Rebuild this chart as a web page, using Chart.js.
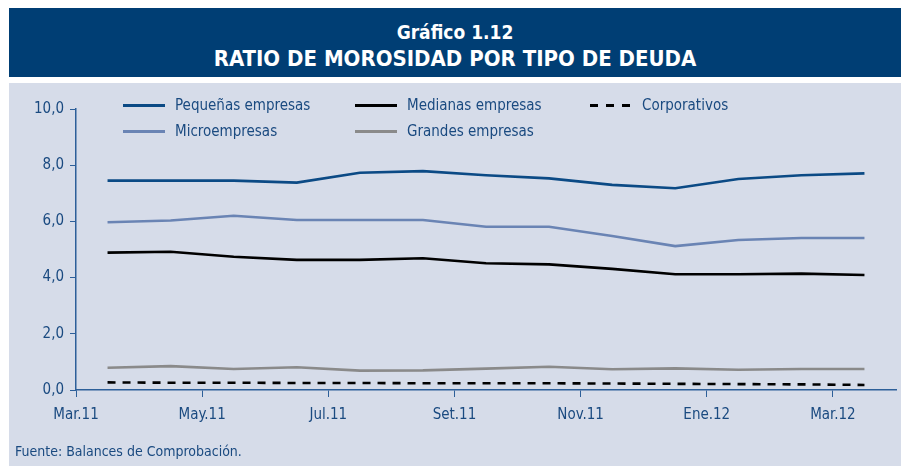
<!DOCTYPE html>
<html>
<head>
<meta charset="utf-8">
<script src="https://cdn.jsdelivr.net/npm/chart.js@4"></script>
<style>
  body { margin: 0; background: #ffffff; width: 901px; height: 466px; overflow: hidden; position: relative;
         font-family: 'DejaVu Sans Condensed', 'Liberation Sans Narrow', sans-serif; }
  #titulo { position: absolute; left: 9px; top: 8px; width: 892px; height: 69px; background: #003e74;
            color: #ffffff; text-align: center; font-weight: bold; }
  #titulo .l1 { position: absolute; left: 0; right: 0; top: 13px; font-size: 19px; line-height: 22px; }
  #titulo .l2 { position: absolute; left: 0; right: 0; top: 38px; font-size: 22px; line-height: 26px; }
  #panel { position: absolute; left: 9px; top: 83px; width: 892px; height: 383px; background: #d6dce9; }
  #panel canvas { position: absolute; left: 0; top: 0; }
  #leyenda { position: absolute; left: 0; top: 0; }
  .item { position: absolute; height: 20px; line-height: 20px; color: #1a4a80; font-size: 15px; white-space: nowrap; }
  .item span.linea { position: absolute; left: 0; top: 9px; width: 42px; height: 3px; }
  .item span.txt { position: absolute; left: 52px; top: 0; }
  #fuente { position: absolute; left: 15px; top: 443px; color: #1a4a80; font-size: 14px; }
</style>
</head>
<body>
<div id="titulo">
  <div class="l1">Gráfico 1.12</div>
  <div class="l2">RATIO DE MOROSIDAD POR TIPO DE DEUDA</div>
</div>
<div id="panel">
  <canvas id="myChart" width="892" height="383"></canvas>
  <div id="leyenda"></div>
</div>
<div id="fuente">Fuente: Balances de Comprobación.</div>

<script>
"use strict"
// meses (un punto por mes)
const meses = ['Mar.11', 'Abr.11', 'May.11', 'Jun.11', 'Jul.11', 'Ago.11', 'Set.11', 'Oct.11', 'Nov.11', 'Dic.11', 'Ene.12', 'Feb.12', 'Mar.12']

// series (en %)
const pequenas = [7.45, 7.45, 7.45, 7.38, 7.73, 7.79, 7.64, 7.53, 7.30, 7.18, 7.51, 7.64, 7.71]
const micro = [5.97, 6.03, 6.20, 6.05, 6.05, 6.05, 5.81, 5.81, 5.48, 5.12, 5.34, 5.41, 5.41]
const medianas = [4.89, 4.92, 4.74, 4.63, 4.63, 4.69, 4.51, 4.47, 4.31, 4.12, 4.12, 4.14, 4.09]
const grandes = [0.79, 0.85, 0.75, 0.81, 0.69, 0.70, 0.76, 0.83, 0.74, 0.77, 0.72, 0.75, 0.75]
const corporativos = [0.27, 0.26, 0.26, 0.25, 0.25, 0.24, 0.24, 0.24, 0.23, 0.22, 0.21, 0.20, 0.18]

const azulTexto = '#1a4a80'
const azulEje = '#2d5f99'
const fuenteTxt = "'DejaVu Sans Condensed', 'Liberation Sans Narrow', sans-serif"

// cada punto va a mitad de mes, las marcas del eje al inicio del mes
function puntos(serie) {
    return serie.map((v, i) => ({ x: i + 0.5, y: v }))
}

const series = [
    { label: 'Pequeñas empresas', data: pequenas, color: '#0b4a85', dash: [], col: 0, fila: 0 },
    { label: 'Medianas empresas', data: medianas, color: '#000000', dash: [], col: 1, fila: 0 },
    { label: 'Corporativos', data: corporativos, color: '#000000', dash: [8, 7], col: 2, fila: 0 },
    { label: 'Microempresas', data: micro, color: '#6a84b4', dash: [], col: 0, fila: 1 },
    { label: 'Grandes empresas', data: grandes, color: '#8a8a8a', dash: [], col: 1, fila: 1 }
]

const my_data = {
    datasets: series.map(s => ({
        label: s.label,
        data: puntos(s.data),
        borderColor: s.color,
        backgroundColor: s.color,
        borderWidth: 2.6,
        borderDash: s.dash,
        pointRadius: 0,
        tension: 0
    }))
}

const config = {
    type: 'line',
    data: my_data,
    options: {
        responsive: false,
        animation: false,
        layout: { padding: { left: 0, right: 5, top: 26, bottom: 0 } },
        plugins: {
            legend: { display: false },
            tooltip: { enabled: false }
        },
        scales: {
            x: {
                type: 'linear',
                min: 0,
                max: meses.length,
                afterBuildTicks: scale => { scale.ticks = scale.ticks.filter(t => t.value % 2 === 0 && t.value < meses.length) },
                afterFit: scale => { scale.height = 76 },
                ticks: {
                    stepSize: 2,
                    autoSkip: false,
                    maxRotation: 0,
                    padding: 9,
                    color: azulTexto,
                    font: { family: fuenteTxt, size: 15 },
                    callback: v => meses[v]
                },
                grid: { drawOnChartArea: false, drawTicks: true, tickLength: 7, color: azulEje },
                border: { display: true, color: azulEje, width: 1.5 }
            },
            y: {
                min: 0,
                max: 10,
                afterFit: scale => { scale.width = 67 },
                ticks: {
                    stepSize: 2,
                    padding: 6,
                    color: azulTexto,
                    font: { family: fuenteTxt, size: 15 },
                    callback: v => v.toFixed(1).replace('.', ',')
                },
                grid: { drawOnChartArea: false, drawTicks: true, tickLength: 6, color: azulEje },
                border: { display: true, color: azulEje, width: 1.5 }
            }
        }
    }
}

const my_chart = new Chart(document.getElementById('myChart'), config)

// leyenda en tres columnas, como en el original
const colX = [114, 346, 581]
const filaY = [12, 38]
const leyenda = document.getElementById('leyenda')
series.forEach(s => {
    const div = document.createElement('div')
    div.className = 'item'
    div.style.left = colX[s.col] + 'px'
    div.style.top = filaY[s.fila] + 'px'
    const linea = document.createElement('span')
    linea.className = 'linea'
    linea.style.background = s.dash.length
        ? 'repeating-linear-gradient(90deg, ' + s.color + ' 0 8px, transparent 8px 16px)'
        : s.color
    const txt = document.createElement('span')
    txt.className = 'txt'
    txt.textContent = s.label
    div.appendChild(linea)
    div.appendChild(txt)
    leyenda.appendChild(div)
})
</script>
</body>
</html>
